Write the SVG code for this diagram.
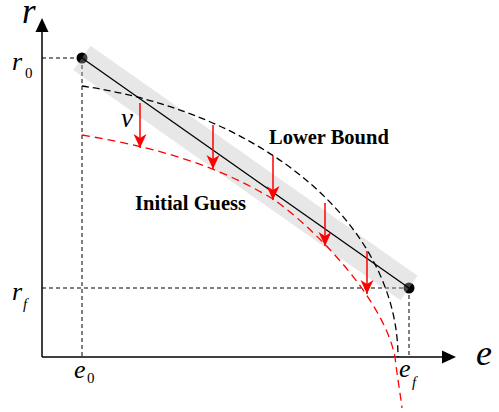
<svg xmlns="http://www.w3.org/2000/svg" width="499" height="412" viewBox="0 0 499 412">
<style>
.axis{stroke:#000;stroke-width:1.5;fill:none}
.guide{stroke:#000;stroke-width:1;stroke-dasharray:4 3;fill:none}
.lb{stroke:#000;stroke-width:1.3;stroke-dasharray:7 4;fill:none}
.ig{stroke:#f00;stroke-width:1.3;stroke-dasharray:8 5;fill:none}
.arr{stroke:#f00;stroke-width:1.5;fill:none;marker-end:url(#rh)}
.it{font-family:"Liberation Serif","Times New Roman",serif;font-style:italic;fill:#000}
.up{font-family:"Liberation Serif","Times New Roman",serif;fill:#000}
.bold{font-family:"Liberation Serif","Times New Roman",serif;font-weight:bold;font-size:20.5px;fill:#000}
</style>
<defs>
<marker id="rh" markerUnits="userSpaceOnUse" markerWidth="16" markerHeight="16" viewBox="-15 -8 16 16" refX="0" refY="0" orient="auto" overflow="visible">
<path d="M0,0 L-14,-6.5 L-10,0 L-14,6.5 Z" fill="#f00"/>
</marker>
</defs>
<rect width="499" height="412" fill="#fff"/>
<g id="axes">
<line class="axis" x1="42" y1="357" x2="42" y2="30"/>
<path d="M42,18 L35.5,32 L48.5,32 Z" fill="#000"/>
<line class="axis" x1="42" y1="357" x2="444" y2="357"/>
<path d="M456,357 L442,350.5 L442,363.5 Z" fill="#000"/>
</g>
<g id="guides">
<line class="guide" x1="42" y1="58" x2="82" y2="58"/>
<line class="guide" x1="82" y1="58" x2="82" y2="357"/>
<line class="guide" x1="42" y1="288" x2="409" y2="288"/>
<line class="guide" x1="409" y1="288" x2="409" y2="357"/>
</g>
<g id="endpoints">
<circle cx="82" cy="58" r="5.5" fill="#000"/>
<circle cx="409" cy="288" r="5.5" fill="#000"/>
</g>
<polygon id="band" points="90.6,45.7 417.6,275.7 400.4,300.3 73.4,70.3" fill="#bbb" fill-opacity="0.35"/>
<g id="connectors">
<line x1="82" y1="58" x2="409" y2="288" stroke="#000" stroke-width="1.3"/>
<path id="lower-bound" class="lb" d="M82,86 A398,277 0 0 1 398,357"/>
<path id="initial-guess" class="ig" d="M82,135 C146,146 209,160.6 273,199 C313,227 383,297 395,357 C397,375 400,392 402,408"/>
<line class="arr" x1="140" y1="103" x2="140" y2="148"/>
<line class="arr" x1="213" y1="125" x2="213" y2="169"/>
<line class="arr" x1="273" y1="156" x2="273" y2="200"/>
<line class="arr" x1="325" y1="203" x2="325" y2="246"/>
<line class="arr" x1="367" y1="251" x2="367" y2="294"/>
</g>
<g id="labels">
<text class="it" x="22" y="23" font-size="35">r</text>
<text class="it" x="476" y="365" font-size="36">e</text>
<text class="it" x="12" y="70" font-size="26">r</text>
<text class="up" x="25" y="78" font-size="15">0</text>
<text class="it" x="12" y="300" font-size="26">r</text>
<text class="it" x="23" y="309" font-size="15">f</text>
<text class="it" x="74" y="378" font-size="26">e</text>
<text class="up" x="87" y="383" font-size="15">0</text>
<text class="it" x="399" y="377" font-size="26">e</text>
<text class="it" x="412" y="387" font-size="15">f</text>
<text class="it" x="121" y="127" font-size="27">ν</text>
<text class="bold" x="269" y="144">Lower Bound</text>
<text class="bold" x="135" y="210">Initial Guess</text>
</g>
</svg>
